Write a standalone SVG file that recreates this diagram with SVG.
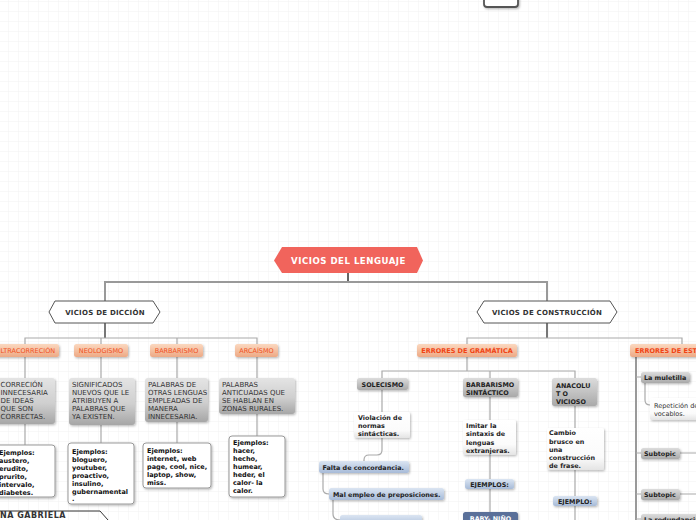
<svg xmlns="http://www.w3.org/2000/svg" width="696" height="520" viewBox="0 0 696 520">
<defs>
<pattern id="grid" x="8" y="1" width="10" height="10" patternUnits="userSpaceOnUse">
<path d="M0,0 V10 M0,0 H10" fill="none" stroke="#f1f1f1" stroke-width="1"/>
</pattern>
<filter id="sh" x="-20%" y="-20%" width="140%" height="160%">
<feDropShadow dx="1" dy="1.2" stdDeviation="0.9" flood-color="#000" flood-opacity="0.28"/>
</filter>
<linearGradient id="gOr" x1="0" y1="0" x2="0" y2="1"><stop offset="0" stop-color="#fbd8bf"/><stop offset="1" stop-color="#eda985"/></linearGradient>
<linearGradient id="gGr" x1="0" y1="0" x2="0" y2="1"><stop offset="0" stop-color="#e4e4e4"/><stop offset="0.55" stop-color="#cfcfcf"/><stop offset="1" stop-color="#a6a6a6"/></linearGradient>
<linearGradient id="gPill" x1="0" y1="0" x2="0" y2="1"><stop offset="0" stop-color="#dcdcdc"/><stop offset="1" stop-color="#a9a9a9"/></linearGradient>
<linearGradient id="gBl" x1="0" y1="0" x2="0" y2="1"><stop offset="0" stop-color="#dbe5f2"/><stop offset="1" stop-color="#a7bbd8"/></linearGradient>
<linearGradient id="gWh" x1="0" y1="0" x2="0" y2="1"><stop offset="0" stop-color="#ffffff"/><stop offset="0.7" stop-color="#fbfbfb"/><stop offset="1" stop-color="#e4e4e4"/></linearGradient>
</defs>
<style>
text{font-family:"DejaVu Sans","Liberation Sans",sans-serif;}
.title{font-size:8.6px;font-weight:bold;fill:#fff;letter-spacing:0.5px;}
.hex{font-size:7px;font-weight:bold;fill:#333;letter-spacing:0.25px;}
.or{font-size:6.5px;fill:#f0501e;}
.orb{font-size:6.5px;font-weight:bold;fill:#f04414;}
.desc{font-size:7px;fill:#333;}
.ex{font-size:6.5px;font-weight:bold;fill:#111;}
.pb{font-size:6.4px;font-weight:bold;fill:#222;}
.reg{font-size:6.5px;fill:#333;}
.wt{font-size:6.4px;font-weight:bold;fill:#fff;}
.c1{fill:none;stroke:#999;stroke-width:2;}
.c2{fill:none;stroke:#aaa;stroke-width:1.2;}
.c3{fill:none;stroke:#777;stroke-width:2;}
</style>
<rect width="696" height="520" fill="#fff"/>
<rect width="696" height="520" fill="url(#grid)"/>

<g id="connectors">
<path d="M348,273 V282" fill="none" stroke="#333" stroke-width="1.5"/>
<path class="c1" d="M105,301 V282 H547 V301"/>
<path class="c3" d="M105,323 V338"/>
<path class="c2" d="M25,344 V338 H257 V344 M101,338 V344 M177,338 V344"/>
<path class="c2" d="M25,357 V378 M101,357 V378 M177,357 V378 M257,357 V378"/>
<path class="c2" d="M25,424 V445 M101,425 V443 M177,422 V443 M257,414 V436"/>
<path class="c3" d="M547,323 V338"/>
<path class="c2" d="M467,344 V338 H682 V344"/>
<path class="c2" d="M467,357 V371 M382,378 V371 H575 V378 M490,371 V378"/>
<path class="c2" d="M382,390 V412 M382,438 V450 Q382,455 377,455 H369 Q364,455 364,460 V461"/>
<path class="c2" d="M323,473 V489 Q323,494 329,494"/>
<path class="c2" d="M333,500 V514 Q333,520 340,520"/>
<path class="c2" d="M490,397 V420 M490,455 V479 M490,489 V512"/>
<path class="c2" d="M575,406 V428 M575,470 V496 M575,506 V520"/>
<path class="c1" d="M636,357 V520"/>
<path class="c2" d="M636,377 H641 M636,453 H641 M636,494 H641 M636,519 H641"/>
<path class="c2" d="M680,453 H696 M680,494 H696"/>
<path class="c2" d="M645,383 V400 Q645,405 650,405"/>
<path d="M0,511 H100 L108,520" fill="none" stroke="#333" stroke-width="1"/>
</g>

<g id="topbox">
<rect x="484" y="-6" width="34" height="13" rx="3" fill="#fff" stroke="#555" stroke-width="1.8" filter="url(#sh)"/>
</g>

<g id="root">
<path d="M274,260.5 L282,247 L417,247 L423,260.5 L417,273 L282,273 Z" fill="#f1645c"/>
<text class="title" x="348.5" y="264" text-anchor="middle">VICIOS DEL LENGUAJE</text>
</g>

<g id="diccion">
<path d="M49,312 L55,301 L153,301 L160,312 L153,323 L55,323 Z" fill="#fff" stroke="#555" stroke-width="1"/>
<text class="hex" x="105" y="315" text-anchor="middle">VICIOS DE DICCIÓN</text>
</g>

<g id="construccion">
<path d="M477,312 L484,301 L610,301 L617,312 L610,323 L484,323 Z" fill="#fff" stroke="#555" stroke-width="1"/>
<text class="hex" x="547" y="315" text-anchor="middle">VICIOS DE CONSTRUCCIÓN</text>
</g>

<g id="ultracorreccion">
<rect x="-8" y="344" width="67" height="13" rx="2.5" fill="url(#gOr)" filter="url(#sh)"/>
<text class="or" x="25.5" y="353" text-anchor="middle">ULTRACORRECIÓN</text>
</g>
<g id="neologismo">
<rect x="74" y="344" width="54" height="13" rx="2.5" fill="url(#gOr)" filter="url(#sh)"/>
<text class="or" x="101" y="353" text-anchor="middle">NEOLOGISMO</text>
</g>
<g id="barbarismo">
<rect x="150" y="344" width="53" height="13" rx="2.5" fill="url(#gOr)" filter="url(#sh)"/>
<text class="or" x="176.5" y="353" text-anchor="middle">BARBARISMO</text>
</g>
<g id="arcaismo">
<rect x="235" y="344" width="43" height="13" rx="2.5" fill="url(#gOr)" filter="url(#sh)"/>
<text class="or" x="256.5" y="353" text-anchor="middle">ARCAÍSMO</text>
</g>

<g id="desc-ultra">
<rect x="-10" y="378" width="65" height="46" rx="3" fill="url(#gGr)" filter="url(#sh)"/>
<text class="desc"><tspan x="0.5" y="386.5">CORRECIÓN</tspan><tspan x="0.5" y="394.5">INNECESARIA</tspan><tspan x="0.5" y="402.5">DE IDEAS</tspan><tspan x="0.5" y="410.5">QUE SON</tspan><tspan x="0.5" y="418.5">CORRECTAS.</tspan></text>
</g>
<g id="desc-neo">
<rect x="69" y="378" width="66" height="47" rx="3" fill="url(#gGr)" filter="url(#sh)"/>
<text class="desc"><tspan x="72" y="387">SIGNIFICADOS</tspan><tspan x="72" y="395">NUEVOS QUE LE</tspan><tspan x="72" y="403">ATRIBUYEN A</tspan><tspan x="72" y="411">PALABRAS QUE</tspan><tspan x="72" y="419">YA EXISTEN.</tspan></text>
</g>
<g id="desc-barb">
<rect x="145" y="378" width="63" height="44" rx="3" fill="url(#gGr)" filter="url(#sh)"/>
<text class="desc"><tspan x="148" y="387">PALABRAS DE</tspan><tspan x="148" y="395">OTRAS LENGUAS</tspan><tspan x="148" y="403">EMPLEADAS DE</tspan><tspan x="148" y="411">MANERA</tspan><tspan x="148" y="419">INNECESARIA.</tspan></text>
</g>
<g id="desc-arca">
<rect x="219" y="378" width="76" height="36" rx="3" fill="url(#gGr)" filter="url(#sh)"/>
<text class="desc"><tspan x="222" y="387">PALABRAS</tspan><tspan x="222" y="395">ANTICUADAS QUE</tspan><tspan x="222" y="403">SE HABLAN EN</tspan><tspan x="222" y="411">ZONAS RURALES.</tspan></text>
</g>

<g id="ej-ultra">
<rect x="-10" y="445" width="65" height="52" rx="3" fill="#fff" stroke="#999" stroke-width="1" filter="url(#sh)"/>
<text class="ex"><tspan x="-1" y="454.5">Ejemplos:</tspan><tspan x="-1" y="462.5">austero,</tspan><tspan x="-1" y="470.5">erudito,</tspan><tspan x="-1" y="478.5">prurito,</tspan><tspan x="-1" y="486.5">intervalo,</tspan><tspan x="-1" y="494.5">diabetes.</tspan></text>
</g>
<g id="ej-neo">
<rect x="68" y="443" width="66" height="61" rx="3" fill="#fff" stroke="#999" stroke-width="1" filter="url(#sh)"/>
<text class="ex"><tspan x="72" y="453.5">Ejemplos:</tspan><tspan x="72" y="461.5">bloguero,</tspan><tspan x="72" y="469.5">youtuber,</tspan><tspan x="72" y="477.5">proactivo,</tspan><tspan x="72" y="485.5">insulino,</tspan><tspan x="72" y="493.5">gubernamental</tspan><tspan x="72" y="501">.</tspan></text>
</g>
<g id="ej-barb">
<rect x="143" y="443" width="68" height="45" rx="3" fill="#fff" stroke="#999" stroke-width="1" filter="url(#sh)"/>
<text class="ex"><tspan x="147" y="453">Ejemplos:</tspan><tspan x="147" y="461">internet, web</tspan><tspan x="147" y="469">page, cool, nice,</tspan><tspan x="147" y="477">laptop, show,</tspan><tspan x="147" y="485">miss.</tspan></text>
</g>
<g id="ej-arca">
<rect x="229" y="436" width="56" height="61" rx="3" fill="#fff" stroke="#999" stroke-width="1" filter="url(#sh)"/>
<text class="ex"><tspan x="233" y="445">Ejemplos:</tspan><tspan x="233" y="453">hacer,</tspan><tspan x="233" y="461">hecho,</tspan><tspan x="233" y="469">humear,</tspan><tspan x="233" y="477">heder, el</tspan><tspan x="233" y="485">calor- la</tspan><tspan x="233" y="493">calor.</tspan></text>
</g>

<g id="autor">
<text x="0" y="518" font-size="8px" font-weight="bold" fill="#333" letter-spacing="0.5">NA GABRIELA</text>
</g>

<g id="gramatica">
<rect x="417" y="344" width="100" height="13" rx="2.5" fill="url(#gOr)" filter="url(#sh)"/>
<text class="orb" x="467" y="353" text-anchor="middle">ERRORES DE GRAMÁTICA</text>
</g>
<g id="estilo">
<rect x="630" y="344" width="110" height="13" rx="2.5" fill="url(#gOr)" filter="url(#sh)"/>
<text class="orb" x="635" y="353">ERRORES DE ESTILO</text>
</g>

<g id="solecismo">
<rect x="357" y="378" width="51" height="12" rx="2.5" fill="url(#gPill)" filter="url(#sh)"/>
<text class="pb" x="382.5" y="386.5" text-anchor="middle">SOLECISMO</text>
</g>
<g id="desc-sole">
<rect x="354" y="412" width="56" height="26" rx="2" fill="url(#gWh)" filter="url(#sh)"/>
<text class="pb"><tspan x="358" y="419.5">Violación de</tspan><tspan x="358" y="427.5">normas</tspan><tspan x="358" y="435.5">sintácticas.</tspan></text>
</g>
<g id="falta">
<rect x="319" y="461" width="90" height="12" rx="2.5" fill="url(#gBl)" filter="url(#sh)"/>
<text class="pb" x="322.5" y="469.5">Falta de concordancia.</text>
</g>
<g id="mal-empleo">
<rect x="329" y="488" width="115" height="12" rx="2.5" fill="url(#gBl)" filter="url(#sh)"/>
<text class="pb" x="333" y="496.5">Mal empleo de preposiciones.</text>
</g>
<g id="abuso">
<rect x="340" y="515" width="82" height="12" rx="2.5" fill="url(#gBl)" filter="url(#sh)"/>
<text class="pb" x="344" y="524.5">Abuso de la voz pasiva</text>
</g>

<g id="barb-sint">
<rect x="463" y="378" width="55" height="19" rx="2.5" fill="url(#gPill)" filter="url(#sh)"/>
<text class="pb"><tspan x="466" y="387">BARBARISMO</tspan><tspan x="466" y="395">SINTÁCTICO</tspan></text>
</g>
<g id="desc-barb-sint">
<rect x="463" y="420" width="53" height="35" rx="2" fill="url(#gWh)" filter="url(#sh)"/>
<text class="pb"><tspan x="466" y="427.5">Imitar la</tspan><tspan x="466" y="436">sintaxis de</tspan><tspan x="466" y="444.5">lenguas</tspan><tspan x="466" y="452.5">extranjeras.</tspan></text>
</g>
<g id="ejemplos">
<rect x="465" y="479" width="49" height="10" rx="2.5" fill="url(#gBl)" filter="url(#sh)"/>
<text class="pb" x="489.5" y="486.8" text-anchor="middle">EJEMPLOS:</text>
</g>
<g id="baby">
<rect x="463" y="512" width="55" height="14" rx="2.5" fill="#5a6f99" filter="url(#sh)"/>
<text class="wt" x="490.5" y="520.5" text-anchor="middle">BABY- NIÑO</text>
</g>

<g id="anacoluto">
<rect x="552" y="378" width="45" height="28" rx="2.5" fill="url(#gPill)" filter="url(#sh)"/>
<text class="pb"><tspan x="556" y="387.5">ANACOLU</tspan><tspan x="556" y="395.5">T O</tspan><tspan x="556" y="403.5">VICIOSO</tspan></text>
</g>
<g id="desc-anac">
<rect x="547" y="428" width="57" height="42" rx="2" fill="url(#gWh)" filter="url(#sh)"/>
<text class="pb"><tspan x="549" y="435">Cambio</tspan><tspan x="549" y="443.5">brusco en</tspan><tspan x="549" y="451.5">una</tspan><tspan x="549" y="459.5">construcción</tspan><tspan x="549" y="467.5">de frase.</tspan></text>
</g>
<g id="ejemplo">
<rect x="553" y="496" width="44" height="10" rx="2.5" fill="url(#gBl)" filter="url(#sh)"/>
<text class="pb" x="575" y="503.8" text-anchor="middle">EJEMPLO:</text>
</g>

<g id="muletilla">
<rect x="641" y="372" width="49" height="11" rx="2.5" fill="url(#gPill)" filter="url(#sh)"/>
<text class="pb" x="644" y="380">La muletilla</text>
</g>
<g id="desc-mule">
<rect x="650" y="398" width="56" height="22" rx="2" fill="url(#gWh)" filter="url(#sh)"/>
<text class="reg"><tspan x="654" y="407.5">Repetición de</tspan><tspan x="654" y="415.5">vocablos.</tspan></text>
</g>
<g id="subtopic1">
<rect x="641" y="448" width="39" height="11" rx="2.5" fill="url(#gPill)" filter="url(#sh)"/>
<text class="pb" x="644" y="456">Subtopic</text>
</g>
<g id="subtopic2">
<rect x="641" y="489" width="39" height="11" rx="2.5" fill="url(#gPill)" filter="url(#sh)"/>
<text class="pb" x="644" y="497">Subtopic</text>
</g>
<g id="redundancia">
<rect x="641" y="514" width="70" height="12" rx="2.5" fill="url(#gPill)" filter="url(#sh)"/>
<text class="pb" x="644" y="522">La redundancia</text>
</g>
</svg>
